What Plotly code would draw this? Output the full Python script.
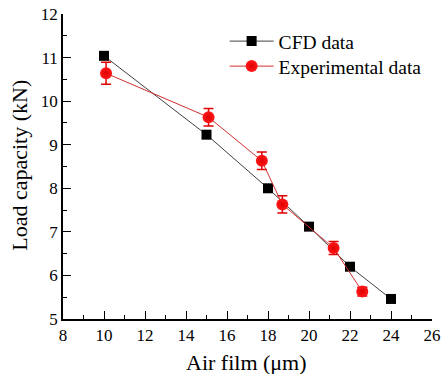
import plotly.graph_objects as go

cfd_x = [10, 15, 18, 20, 22, 24]
cfd_y = [11.04, 9.23, 8.0, 7.12, 6.2, 5.46]

exp_x = [10.1, 15.1, 17.7, 18.7, 21.2, 22.6]
exp_y = [10.64, 9.63, 8.63, 7.63, 6.63, 5.63]
exp_err = [0.25, 0.2, 0.2, 0.2, 0.15, 0.1]

x_ticks = [8, 10, 12, 14, 16, 18, 20, 22, 24, 26]
y_ticks = [5, 6, 7, 8, 9, 10, 11, 12]

x_title = "Air film (μm)"
y_title = "Load capacity (kN)"

font = "Liberation Serif"

fig = go.Figure()
fig.add_trace(go.Scatter(
    x=cfd_x, y=cfd_y, mode="lines+markers", name="CFD data",
    line=dict(color="#404040", width=1),
    marker=dict(symbol="square", size=10, color="black"),
    legend="legend",
))
fig.add_trace(go.Scatter(
    x=exp_x, y=exp_y, mode="lines+markers", name="Experimental data",
    line=dict(color="#d03030", width=1),
    marker=dict(symbol="circle", size=12, color="#ff1a1a",
                gradient=dict(type="radial", color="#e00000"),
                line=dict(width=0)),
    error_y=dict(type="data", array=exp_err, visible=True, color="#e00000",
                 thickness=1.5, width=5),
    legend="legend2",
))

axis_common = dict(
    showline=True, linecolor="black", linewidth=1.5, showgrid=False,
    zeroline=False, ticks="inside", ticklen=8, tickwidth=1.2, tickcolor="black",
    tickfont=dict(family=font, size=17, color="black"), mirror=False,
    automargin=False,
)
fig.update_xaxes(range=[8, 26], tickvals=x_ticks,
                 minor=dict(dtick=1, ticks="inside", ticklen=4, tickwidth=1, tickcolor="black"),
                 **axis_common)
fig.update_yaxes(range=[5, 12], tickvals=y_ticks,
                 minor=dict(dtick=0.5, ticks="inside", ticklen=4, tickwidth=1, tickcolor="black"),
                 **axis_common)

fig.add_annotation(text=x_title, xref="paper", yref="paper", x=0.498, y=-0.141,
                   xanchor="center", yanchor="middle", showarrow=False,
                   font=dict(family=font, size=22, color="black"))
fig.add_annotation(text=y_title, xref="paper", yref="paper", x=-0.117, y=0.505,
                   xanchor="center", yanchor="middle", showarrow=False, textangle=-90,
                   font=dict(family=font, size=22, color="black"))

legend_common = dict(xanchor="left", yanchor="top", bgcolor="rgba(0,0,0,0)",
                     itemwidth=44, font=dict(family=font, size=19.5, color="black"))

fig.update_layout(
    width=441, height=374,
    margin=dict(l=63, r=9, t=14, b=55, autoexpand=False),
    paper_bgcolor="white", plot_bgcolor="white",
    showlegend=True,
    legend=dict(x=0.438, y=0.974, **legend_common),
    legend2=dict(x=0.438, y=0.892, **legend_common),
)

fig.write_html(
    "out.html",
    config={"displayModeBar": False},
    post_script="document.body.style.margin='0';document.body.style.overflow='hidden';",
)
